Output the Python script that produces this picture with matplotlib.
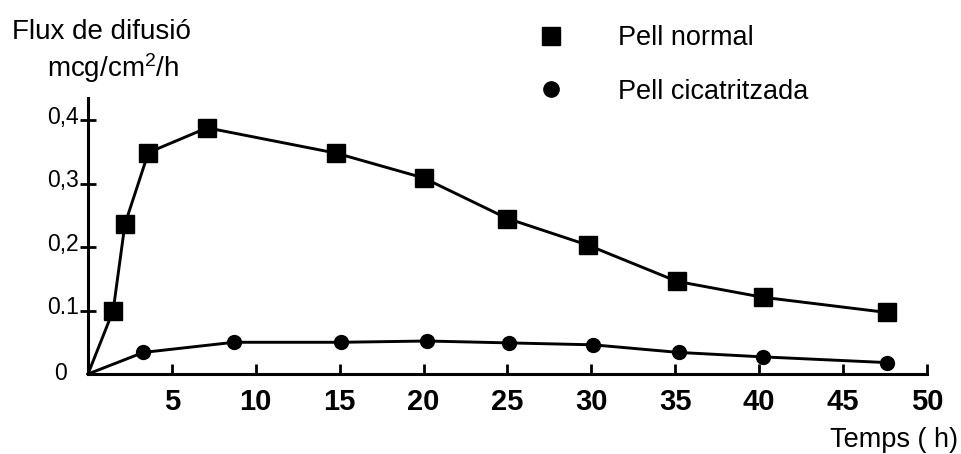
import matplotlib
matplotlib.use("Agg")
import matplotlib.pyplot as plt
import matplotlib.transforms as mtransforms
from matplotlib.lines import Line2D

plt.rcParams['font.family'] = ['Liberation Sans', 'DejaVu Sans']
plt.rcParams['mathtext.fontset'] = 'custom'
plt.rcParams['mathtext.rm'] = 'Liberation Sans'
plt.rcParams['mathtext.it'] = 'Liberation Sans'

# Data
time_normal = [0, 1.5, 2.2, 3.6, 7.1, 14.8, 20.0, 25.0, 29.8, 35.1, 40.2, 47.6]
flux_normal = [0, 0.100, 0.236, 0.349, 0.388, 0.348, 0.309, 0.245, 0.203, 0.146, 0.121, 0.097]
time_scar = [0, 3.3, 8.7, 15.1, 20.2, 25.1, 30.1, 35.2, 40.2, 47.6]
flux_scar = [0, 0.034, 0.050, 0.050, 0.052, 0.049, 0.046, 0.034, 0.027, 0.018]

x_ticks = [5, 10, 15, 20, 25, 30, 35, 40, 45, 50]
x_ticklabels = ['5', '10', '15', '20', '25', '30', '35', '40', '45', '50']
y_ticks = [0, 0.1, 0.2, 0.3, 0.4]
y_ticklabels = ['0', '0.1', '0,2', '0,3', '0,4']

label_normal = 'Pell normal'
label_scar = 'Pell cicatritzada'
y_title1 = 'Flux de difusió'
y_title2 = r'mcg/cm$^{\mathregular{2}}$/h'
x_title = 'Temps ( h)'

W, H = 962, 454
fig = plt.figure(figsize=(W / 100, H / 100), dpi=100)
ax = fig.add_axes([88 / W, (H - 374) / H, 839 / W, 276 / H])

ax.plot(time_normal, flux_normal, color='black', lw=2.1, marker='s', ms=12.5,
        markevery=list(range(1, len(time_normal))), clip_on=False, zorder=3)
ax.plot(time_scar, flux_scar, color='black', lw=2.1, marker='o', ms=10,
        markevery=list(range(1, len(time_scar))), clip_on=False, zorder=3)

ax.set_xlim(0, 50)
ax.set_ylim(0, 0.435)
for s in ['top', 'right']:
    ax.spines[s].set_visible(False)
for s in ['left', 'bottom']:
    ax.spines[s].set_linewidth(2.2)

ax.set_xticks(x_ticks)
ax.set_xticklabels(x_ticklabels, fontweight='bold')
ax.tick_params(axis='x', direction='in', length=7, width=2, pad=10, labelsize=21)

ax.set_yticks(y_ticks)
ax.set_yticklabels(y_ticklabels)
ax.tick_params(axis='y', direction='inout', length=11, width=2, pad=1, labelsize=16.5)
ax.yaxis.get_major_ticks()[0].tick1line.set_visible(False)
offset = mtransforms.ScaledTranslation(0, 4 / 72, fig.dpi_scale_trans)
for i, lab in enumerate(ax.get_yticklabels()):
    if i == 0:
        lab.set_transform(lab.get_transform() +
                          mtransforms.ScaledTranslation(-9 / 72, 2 / 72, fig.dpi_scale_trans))
    else:
        lab.set_transform(lab.get_transform() + offset)

fig.text(12 / W, 1 - 39 / H, y_title1, fontsize=20, va='baseline', ha='left')
fig.text(47 / W, 1 - 77 / H, y_title2, fontsize=20, va='baseline', ha='left')
fig.text(958 / W, 1 - 447 / H, x_title, fontsize=19.5, va='baseline', ha='right')

handles = [Line2D([], [], color='black', marker='s', ms=13, ls='none'),
           Line2D([], [], color='black', marker='o', ms=11, ls='none')]
leg = ax.legend(handles, [label_normal, label_scar], loc='upper left',
                bbox_to_anchor=(537.5 / W, 1 - 25 / H), bbox_transform=fig.transFigure,
                frameon=False, fontsize=19.5, handlelength=1.0, handletextpad=1.97,
                labelspacing=1.02, borderpad=0, borderaxespad=0)

fig.savefig('out.png', dpi=100)
